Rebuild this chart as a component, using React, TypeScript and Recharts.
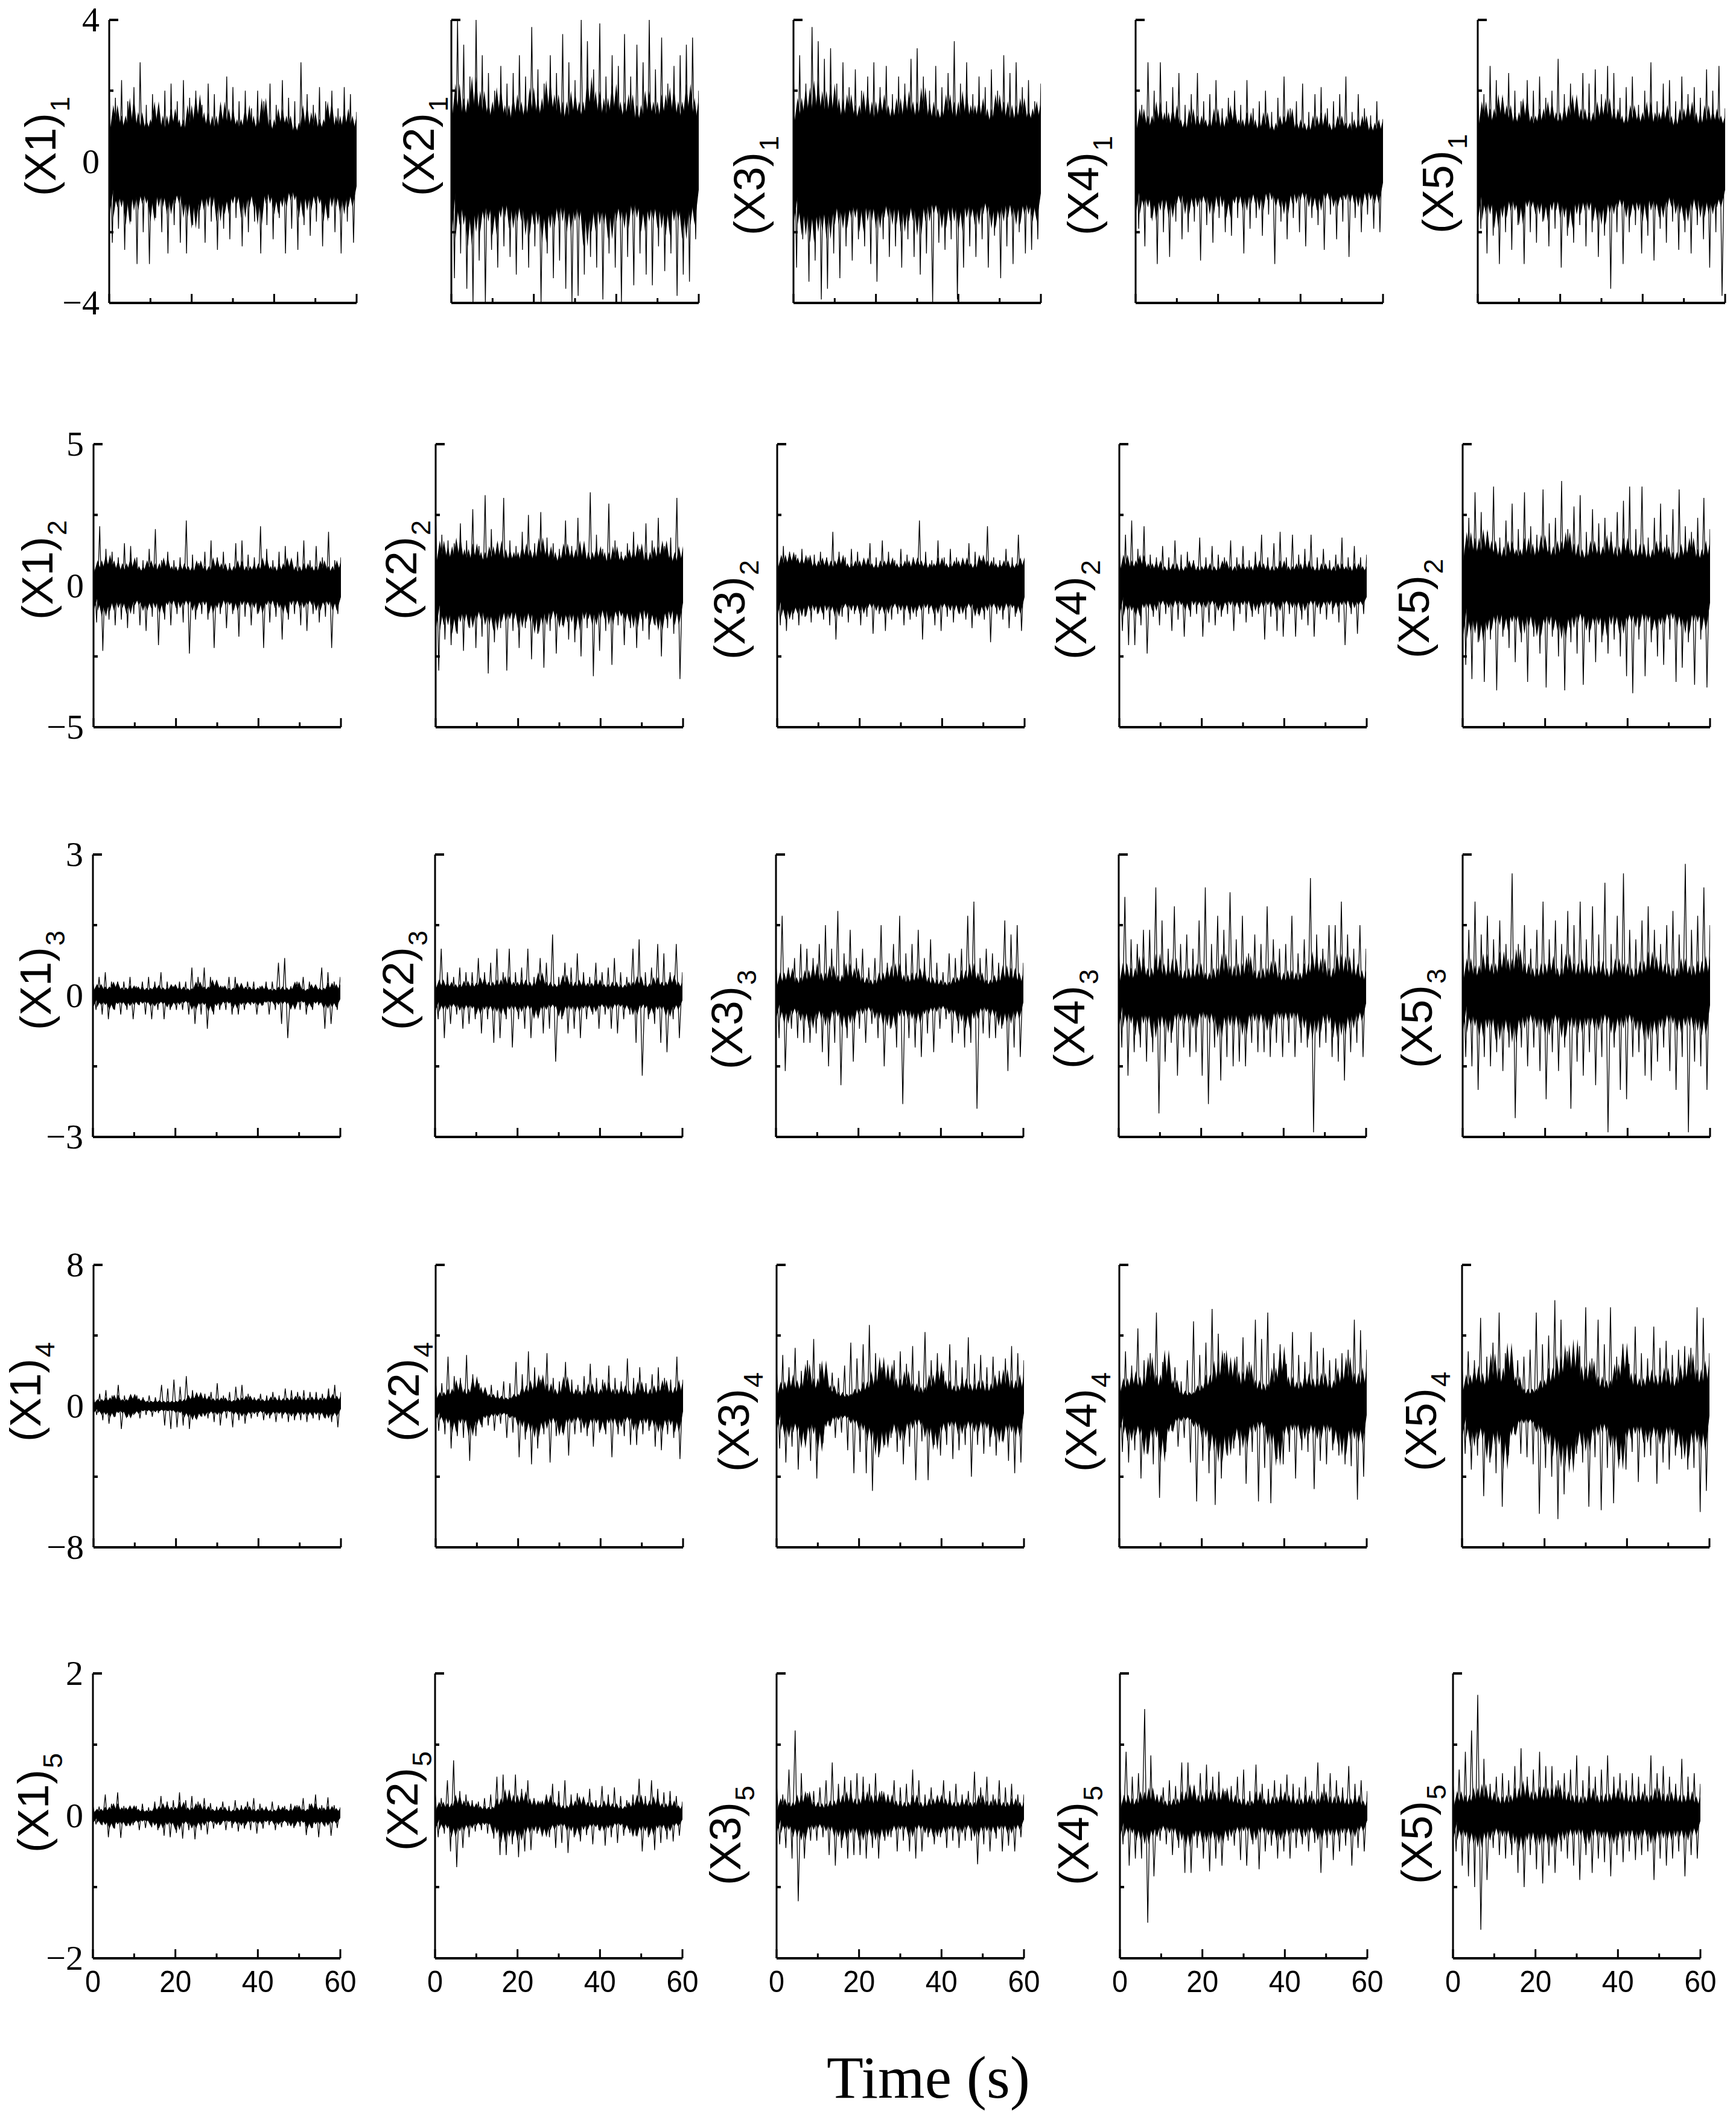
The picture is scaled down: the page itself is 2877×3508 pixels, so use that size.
import { ComposedChart, Line, Area, XAxis, YAxis } from 'recharts'

const rowLimits = [4, 5, 3, 8, 2]
const timeTicks = [0, 10, 20, 30, 40, 50, 60]
const timeLabels = [0, 20, 40, 60]
const columnNames = ['X1', 'X2', 'X3', 'X4', 'X5']

// spike tops, spike bottoms (every 1.5 s) and height of the dense part of the trace (every 1 s)
const hi11 = [2.2,1.8,2.3,1.7,2.1,2.8,1.6,1.9,1.5,2.0,2.2,1.7,2.3,1.8,2.0,1.6,2.2,1.9,1.6,2.4,2.1,1.7,2.0,1.5,2.0,1.7,2.2,1.6,2.3,1.8,1.7,2.8,1.9,1.6,2.1,1.7,2.0,1.5,2.1,1.9,1.4]
const lo11 = [-2.3,-1.9,-2.5,-1.7,-2.9,-2.0,-2.9,-1.6,-2.0,-2.6,-1.8,-2.3,-2.6,-1.8,-1.9,-2.3,-1.7,-2.5,-1.9,-2.2,-1.6,-2.4,-2.0,-1.7,-2.6,-1.8,-2.2,-1.6,-2.6,-1.9,-2.5,-1.8,-2.1,-1.7,-2.4,-1.6,-2.0,-2.6,-1.7,-2.3,-1.5]
const band11 = [0.7,1.6,0.8,1.3,0.7,1.8,0.6,1.4,0.7,1.2,0.8,1.7,0.6,1.3,0.7,1.5,0.8,1.2,0.6,1.6,0.7,1.9,0.8,1.4,0.7,1.3,0.6,1.7,0.7,1.5,0.8,1.2,0.7,1.6,0.6,1.3,0.7,1.8,0.6,1.2,0.7,1.5,0.8,1.3,0.6,1.1,0.7,1.6,0.6,1.4,0.7,1.2,0.8,1.7,0.6,1.3,0.7,1.5,0.7,1.3,0.7]
const hi21 = [3.2,4.0,3.3,2.4,4.0,3.0,2.5,2.0,2.7,2.2,2.5,3.0,2.4,3.8,2.6,2.2,3.0,2.5,3.6,2.8,2.3,4.0,3.4,2.6,3.9,2.4,3.0,2.7,3.6,2.4,3.3,2.8,4.0,2.6,3.5,2.2,2.7,3.0,3.3,3.5,2.0]
const lo21 = [-3.3,-2.6,-3.6,-4.0,-2.8,-4.0,-2.5,-3.0,-2.4,-2.7,-3.2,-2.5,-3.0,-2.4,-4.0,-2.6,-3.3,-2.8,-3.6,-4.0,-3.8,-3.2,-2.7,-3.0,-3.9,-2.6,-3.0,-4.0,-2.7,-3.5,-2.6,-3.2,-3.5,-2.4,-3.1,-2.6,-3.8,-3.2,-3.4,-2.2,-2.5]
const band21 = [1.0,2.2,0.9,1.8,1.0,2.4,0.9,2.0,1.0,1.7,0.9,2.1,1.0,1.6,0.8,1.9,1.0,1.7,0.9,2.1,1.0,1.8,0.9,2.3,1.0,1.9,0.9,1.7,0.8,2.0,1.0,1.7,0.9,2.4,1.0,2.0,0.9,1.8,1.0,2.2,0.9,1.7,1.0,1.9,0.8,1.6,0.9,2.0,1.0,1.7,0.9,1.9,1.0,2.1,0.9,1.7,1.0,2.2,0.9,1.8,0.8]
const hi31 = [2.7,3.0,2.2,3.8,3.4,2.9,3.2,2.2,2.8,2.1,2.6,2.0,2.4,2.8,2.1,2.7,1.9,2.4,2.2,2.9,3.2,2.4,2.0,2.7,2.1,2.5,3.4,2.2,2.8,1.9,2.4,2.1,2.6,2.0,3.0,2.5,2.8,2.1,2.3,1.7,2.2]
const lo31 = [-3.0,-2.2,-3.4,-2.8,-3.9,-3.6,-2.6,-3.3,-2.4,-2.8,-2.2,-2.4,-2.9,-3.4,-2.2,-2.7,-2.4,-3.0,-2.2,-2.7,-3.2,-2.6,-4.0,-2.3,-2.5,-2.2,-3.9,-3.0,-2.4,-2.7,-2.2,-3.0,-2.1,-3.3,-2.4,-2.9,-2.0,-2.6,-2.5,-2.2,-1.8]
const band31 = [0.9,1.8,1.0,2.1,0.9,2.3,1.0,2.0,0.9,2.2,0.8,1.8,0.9,1.9,1.0,1.6,0.9,2.0,0.8,1.7,0.9,1.9,1.0,1.6,0.9,1.8,0.8,2.0,1.0,1.7,0.9,2.1,0.8,1.7,0.9,1.5,1.0,1.9,0.9,1.7,0.8,2.0,0.9,1.6,1.0,1.8,0.8,1.5,0.9,1.9,1.0,1.7,0.8,1.6,0.9,1.8,0.9,1.5,1.0,1.7,0.9]
const hi41 = [2.3,1.6,2.8,2.0,2.8,1.7,2.1,2.5,1.6,1.9,2.5,1.7,1.9,2.3,1.5,1.8,2.0,1.6,2.3,1.5,1.7,2.0,1.4,1.8,2.4,1.5,1.7,2.2,1.4,1.9,2.1,1.5,1.7,1.9,2.4,1.4,1.9,1.5,1.3,1.7,1.2]
const lo41 = [-1.9,-2.4,-1.6,-2.9,-2.0,-2.7,-1.7,-2.2,-2.0,-1.7,-2.8,-1.8,-2.3,-1.6,-2.0,-2.1,-1.6,-2.6,-1.9,-1.6,-2.1,-1.5,-2.9,-1.7,-2.2,-1.6,-2.0,-2.4,-1.6,-1.8,-2.5,-1.5,-2.2,-1.7,-2.7,-1.6,-2.0,-1.5,-1.9,-2.0,-1.5]
const band41 = [0.7,1.5,0.8,1.3,0.7,1.7,0.8,1.4,0.7,1.6,0.8,1.2,0.6,1.5,0.7,1.3,0.8,1.2,0.7,1.5,0.6,1.3,0.7,1.6,0.8,1.2,0.7,1.4,0.6,1.2,0.7,1.4,0.6,1.1,0.7,1.3,0.8,1.5,0.6,1.2,0.7,1.1,0.6,1.3,0.7,1.4,0.6,1.1,0.7,1.3,0.8,1.1,0.6,1.2,0.7,1.3,0.6,1.1,0.7,1.2,0.6]
const hi51 = [2.5,1.9,2.7,2.3,1.8,2.5,2.0,1.7,2.3,2.0,2.4,1.8,2.0,2.9,1.9,2.2,1.7,2.5,2.2,2.6,1.9,2.7,2.5,1.8,2.1,2.4,1.6,2.0,2.8,1.7,2.2,2.3,1.7,2.4,1.9,2.1,1.8,2.6,2.0,2.7,1.5]
const lo51 = [-1.9,-2.6,-2.1,-2.9,-2.0,-2.5,-1.8,-2.9,-2.0,-2.3,-1.7,-2.4,-1.9,-3.0,-2.1,-2.3,-1.8,-2.4,-2.0,-2.7,-2.1,-3.6,-2.0,-2.9,-2.0,-1.8,-2.6,-2.1,-2.8,-1.9,-2.3,-1.7,-2.5,-2.0,-2.6,-1.8,-2.2,-3.0,-2.0,-3.8,-1.7]
const band51 = [0.8,1.7,0.9,1.5,0.8,1.9,0.9,1.6,0.8,1.4,0.9,1.8,0.8,1.3,0.9,1.5,0.8,1.7,0.9,1.4,0.8,1.6,0.9,1.9,0.8,1.5,0.9,1.4,0.8,1.7,0.9,1.8,0.8,1.5,0.9,1.3,0.8,1.6,0.9,1.4,0.8,1.7,0.7,1.4,0.9,1.6,0.8,1.3,0.7,1.5,0.9,1.7,0.8,1.4,0.7,1.6,0.8,1.5,0.9,1.3,0.8]

const hi12 = [0.9,2.1,1.3,1.2,1.0,1.5,1.4,1.0,0.9,1.3,2.0,0.9,1.2,0.9,1.0,2.3,1.1,0.8,1.2,1.6,1.0,1.2,0.8,1.5,1.6,1.1,1.0,2.1,1.3,0.9,1.2,1.4,0.8,1.2,1.6,0.9,1.4,1.0,1.9,0.9,1.0]
const lo12 = [-1.3,-2.3,-1.2,-1.4,-1.2,-1.5,-1.0,-1.4,-1.6,-1.1,-2.1,-1.2,-1.4,-1.0,-1.3,-2.4,-1.2,-1.0,-1.2,-2.2,-1.0,-1.5,-1.0,-1.8,-1.1,-1.4,-1.0,-2.2,-1.3,-1.1,-1.9,-1.2,-1.0,-1.4,-1.6,-1.0,-1.3,-1.1,-2.2,-1.0,-1.0]
const band12 = [0.4,0.9,0.4,1.1,0.4,0.9,0.3,0.8,0.4,1.0,0.3,0.7,0.4,0.9,0.4,0.8,0.3,1.0,0.4,0.7,0.3,0.8,0.4,0.7,0.3,0.9,0.4,0.7,0.3,1.0,0.4,0.8,0.3,0.7,0.4,0.9,0.3,0.7,0.4,0.8,0.3,1.0,0.4,0.7,0.3,0.8,0.4,1.0,0.3,0.7,0.3,0.8,0.4,0.7,0.3,0.9,0.4,0.7,0.3,0.9,0.4]
const hi22 = [2.7,1.8,1.6,1.5,2.2,1.6,2.7,1.4,3.2,2.0,1.5,3.1,1.6,1.4,1.9,2.5,1.5,2.6,1.7,1.5,1.3,2.3,1.4,2.4,1.3,3.3,1.8,1.3,2.9,1.6,1.2,1.5,1.9,1.3,2.2,1.6,2.4,1.4,1.7,3.1,1.3]
const lo22 = [-3.0,-1.9,-2.1,-1.7,-2.3,-1.5,-2.2,-1.8,-3.1,-2.0,-1.5,-3.0,-1.6,-2.2,-1.5,-2.6,-1.7,-2.9,-1.6,-2.4,-1.4,-1.9,-2.0,-2.5,-1.5,-3.2,-2.3,-1.6,-2.8,-1.4,-2.1,-1.5,-2.2,-1.6,-1.9,-1.4,-2.5,-1.5,-1.7,-3.3,-1.4]
const band22 = [0.6,1.6,0.7,1.4,0.6,1.7,0.7,1.3,0.6,1.5,0.7,1.2,0.6,1.4,0.7,1.6,0.5,1.3,0.7,1.2,0.6,1.5,0.7,1.3,0.6,1.7,0.7,1.4,0.5,1.2,0.6,1.5,0.7,1.3,0.6,1.6,0.5,1.2,0.7,1.4,0.6,1.2,0.5,1.4,0.6,1.1,0.7,1.3,0.6,1.5,0.5,1.2,0.6,1.4,0.7,1.6,0.6,1.2,0.5,1.4,0.6]
const hi32 = [1.3,1.4,1.2,1.1,1.3,1.0,1.1,1.2,1.0,1.9,1.2,1.0,1.3,1.2,0.9,1.5,1.0,1.6,1.2,0.9,1.3,1.1,1.0,2.3,1.2,0.9,1.6,1.0,1.3,1.0,0.9,1.5,1.2,0.9,2.1,1.0,0.9,1.3,1.0,1.8,0.9]
const lo32 = [-1.4,-1.6,-1.2,-1.4,-1.1,-1.3,-1.0,-1.2,-1.4,-1.9,-1.1,-1.3,-1.0,-1.4,-1.1,-1.7,-1.0,-1.6,-1.2,-1.0,-1.4,-1.2,-1.1,-1.9,-1.0,-1.4,-1.6,-1.1,-1.3,-1.0,-1.2,-1.5,-1.0,-1.2,-2.0,-1.0,-1.2,-1.5,-1.1,-1.6,-1.0]
const band32 = [0.5,1.1,0.5,1.2,0.6,1.0,0.5,1.1,0.4,0.9,0.5,1.0,0.4,0.9,0.5,1.1,0.4,0.8,0.5,0.9,0.4,1.0,0.5,0.8,0.4,0.9,0.5,1.0,0.4,0.8,0.5,0.9,0.4,1.0,0.5,0.9,0.4,0.8,0.5,1.0,0.4,0.8,0.5,0.9,0.4,1.0,0.5,0.8,0.4,1.1,0.5,0.9,0.4,0.8,0.5,0.9,0.4,0.8,0.5,1.0,0.4]
const hi42 = [1.5,1.8,2.3,1.3,2.1,1.1,1.0,1.4,1.0,1.6,1.1,1.2,0.9,1.7,1.0,1.4,1.1,1.0,1.6,1.0,1.4,0.9,1.2,1.8,1.0,1.5,1.9,1.0,1.8,1.1,1.3,1.8,1.0,1.3,0.9,1.1,1.7,1.0,1.4,1.0,1.1]
const lo42 = [-1.6,-2.1,-2.1,-1.4,-2.4,-1.1,-1.4,-1.0,-1.6,-1.2,-1.8,-1.1,-1.0,-1.8,-1.3,-1.4,-1.1,-1.0,-1.6,-1.0,-1.3,-1.1,-1.0,-1.9,-1.1,-1.6,-1.8,-1.0,-1.8,-1.2,-1.4,-1.8,-1.0,-1.2,-1.0,-1.3,-2.1,-1.0,-1.7,-1.0,-1.1]
const band42 = [0.4,1.1,0.4,0.9,0.5,1.1,0.4,0.8,0.4,0.9,0.3,0.7,0.4,0.8,0.3,0.7,0.4,0.9,0.3,0.7,0.4,0.8,0.3,0.7,0.4,0.9,0.4,0.7,0.3,0.8,0.4,0.7,0.3,0.9,0.4,0.8,0.3,0.7,0.4,0.9,0.3,0.7,0.4,0.8,0.3,0.9,0.4,0.7,0.3,0.8,0.4,0.7,0.3,0.8,0.4,0.7,0.3,0.8,0.4,0.7,0.4]
const hi52 = [3.2,2.4,3.3,2.6,1.9,3.5,1.7,2.3,2.9,2.0,3.3,2.1,1.8,3.4,2.2,2.4,3.7,2.0,2.8,3.2,1.9,2.7,2.2,2.4,1.9,2.6,3.0,3.5,2.0,3.5,1.7,2.4,2.9,1.8,2.7,3.4,2.1,1.9,2.4,3.1,2.0]
const lo52 = [-2.8,-3.3,-2.0,-3.4,-1.9,-3.7,-1.8,-2.2,-2.7,-2.0,-3.4,-1.8,-2.4,-3.6,-1.8,-2.5,-3.7,-2.0,-2.4,-3.5,-2.0,-2.7,-2.0,-2.4,-1.9,-2.5,-3.2,-3.8,-1.9,-3.2,-2.0,-2.5,-2.8,-1.9,-3.4,-2.9,-2.0,-3.5,-1.9,-3.6,-1.9]
const band52 = [0.7,1.9,0.8,1.7,0.7,2.0,0.8,1.6,0.7,1.4,0.6,1.6,0.8,1.3,0.7,1.7,0.6,1.5,0.7,1.8,0.8,1.4,0.7,1.6,0.8,1.9,0.7,1.5,0.6,1.3,0.7,1.6,0.8,1.4,0.7,1.8,0.6,1.4,0.7,1.7,0.8,1.3,0.7,1.5,0.6,1.3,0.7,1.6,0.8,1.4,0.7,1.2,0.6,1.5,0.7,1.7,0.6,1.3,0.7,1.6,0.6]

const hi13 = [0.3,0.4,0.5,0.3,0.3,0.3,0.4,0.2,0.3,0.4,0.3,0.5,0.3,0.2,0.3,0.3,0.6,0.4,0.6,0.4,0.3,0.2,0.4,0.4,0.2,0.3,0.3,0.2,0.3,0.3,0.7,0.8,0.2,0.3,0.4,0.3,0.2,0.6,0.5,0.3,0.4]
const lo13 = [-0.3,-0.4,-0.5,-0.3,-0.4,-0.3,-0.5,-0.2,-0.4,-0.5,-0.3,-0.5,-0.3,-0.3,-0.3,-0.4,-0.6,-0.4,-0.7,-0.4,-0.3,-0.3,-0.4,-0.4,-0.3,-0.2,-0.4,-0.2,-0.4,-0.3,-0.6,-0.9,-0.2,-0.3,-0.4,-0.3,-0.2,-0.7,-0.6,-0.3,-0.4]
const band13 = [0.08,0.25,0.07,0.2,0.08,0.3,0.07,0.18,0.08,0.22,0.07,0.2,0.06,0.17,0.08,0.23,0.07,0.18,0.08,0.25,0.07,0.2,0.06,0.16,0.07,0.3,0.08,0.2,0.07,0.35,0.08,0.22,0.06,0.17,0.07,0.28,0.06,0.2,0.08,0.18,0.06,0.22,0.07,0.15,0.06,0.2,0.05,0.18,0.07,0.3,0.05,0.15,0.07,0.25,0.06,0.17,0.07,0.28,0.06,0.25,0.07]
const hi23 = [0.4,1.0,0.5,0.4,0.6,0.5,0.5,0.8,0.5,0.7,1.0,0.5,1.0,0.5,0.6,1.0,0.4,0.8,0.7,1.3,0.4,0.7,0.6,0.9,0.5,0.4,0.7,0.5,0.6,0.8,0.5,0.4,1.0,1.2,0.5,0.6,1.1,0.9,0.5,1.1,0.5]
const lo23 = [-0.5,-0.9,-0.6,-0.4,-0.7,-0.6,-0.5,-0.8,-0.5,-1.0,-0.9,-0.5,-1.1,-0.5,-0.7,-0.9,-0.4,-0.8,-0.7,-1.4,-0.5,-0.8,-0.7,-0.9,-0.5,-0.4,-0.7,-0.4,-0.7,-0.8,-0.5,-0.4,-1.0,-1.7,-0.5,-0.6,-1.0,-1.2,-0.5,-0.9,-0.4]
const band23 = [0.1,0.35,0.1,0.3,0.1,0.25,0.09,0.32,0.1,0.28,0.12,0.4,0.1,0.3,0.11,0.35,0.1,0.42,0.1,0.3,0.12,0.35,0.1,0.3,0.1,0.5,0.12,0.3,0.1,0.26,0.12,0.45,0.1,0.3,0.09,0.35,0.1,0.28,0.1,0.35,0.12,0.25,0.1,0.3,0.09,0.24,0.1,0.3,0.1,0.42,0.09,0.27,0.1,0.4,0.12,0.3,0.1,0.45,0.1,0.3,0.1]
const hi33 = [0.7,1.7,0.6,0.8,1.1,1.0,0.8,1.1,1.5,1.0,1.8,0.9,1.4,0.8,1.0,0.6,0.8,1.5,0.7,1.1,1.7,0.9,1.1,1.4,0.8,1.2,0.7,0.5,0.9,0.8,1.0,1.7,2.0,0.8,1.0,0.9,0.7,1.6,1.3,1.5,0.7]
const lo33 = [-0.9,-1.6,-0.7,-0.9,-1.0,-1.0,-0.8,-1.2,-1.5,-1.0,-1.9,-0.9,-1.4,-0.7,-1.0,-0.6,-0.9,-1.5,-0.7,-1.1,-2.3,-0.9,-1.1,-1.3,-0.8,-1.2,-0.7,-0.5,-1.0,-0.8,-1.1,-1.0,-2.4,-0.8,-0.9,-0.9,-0.7,-1.6,-1.1,-1.3,-0.7]
const band33 = [0.12,0.5,0.14,0.6,0.12,0.4,0.15,0.55,0.14,0.7,0.12,0.5,0.14,0.65,0.12,0.45,0.15,0.7,0.14,0.6,0.12,0.4,0.14,0.35,0.12,0.5,0.14,0.65,0.12,0.7,0.14,0.45,0.12,0.5,0.15,0.6,0.12,0.4,0.14,0.35,0.12,0.3,0.14,0.4,0.15,0.55,0.12,0.7,0.14,0.5,0.12,0.35,0.14,0.45,0.12,0.65,0.14,0.6,0.12,0.5,0.14]
const hi43 = [1.0,2.1,1.2,1.1,1.4,1.4,2.3,1.6,1.0,1.9,1.1,1.3,1.0,1.6,2.3,1.1,1.7,1.4,2.2,1.2,1.7,0.9,1.3,1.1,1.9,1.2,1.0,1.1,1.7,0.9,1.2,2.5,1.3,1.0,1.5,1.5,2.0,1.3,1.0,1.5,1.0]
const lo43 = [-1.1,-1.7,-1.2,-1.1,-1.4,-1.2,-2.5,-1.4,-1.0,-1.7,-1.1,-1.3,-1.2,-1.7,-2.3,-1.1,-1.8,-1.3,-1.5,-1.4,-1.5,-1.0,-1.2,-1.2,-1.3,-1.0,-1.3,-1.0,-1.3,-1.0,-1.1,-2.9,-1.1,-1.0,-1.3,-1.4,-1.8,-1.2,-1.0,-1.3,-0.9]
const band43 = [0.15,0.7,0.17,0.6,0.15,0.85,0.18,0.6,0.16,0.9,0.15,0.7,0.17,0.8,0.15,0.55,0.16,0.6,0.14,0.7,0.15,0.5,0.17,0.6,0.15,0.9,0.16,0.65,0.15,0.7,0.14,0.85,0.16,0.55,0.15,0.6,0.17,0.75,0.15,0.5,0.14,0.55,0.16,0.5,0.15,0.7,0.18,0.95,0.17,0.8,0.15,0.6,0.18,0.9,0.17,0.85,0.16,0.7,0.15,0.55,0.16]
const hi53 = [1.2,1.4,2.0,1.3,1.7,1.2,1.6,1.1,2.6,1.1,1.5,1.0,1.4,2.0,1.2,1.6,1.1,1.8,1.5,2.0,1.2,1.9,1.3,2.4,1.1,1.7,2.6,1.4,1.2,1.6,1.9,1.4,1.1,1.5,1.8,1.3,2.8,1.4,1.7,2.3,1.5]
const lo53 = [-1.3,-1.5,-2.0,-1.3,-1.5,-1.2,-1.6,-1.1,-2.6,-1.1,-1.5,-1.1,-1.6,-2.2,-1.2,-1.6,-1.1,-2.4,-1.4,-1.7,-1.2,-1.9,-1.3,-2.9,-1.1,-2.0,-2.2,-1.3,-1.2,-1.7,-1.8,-1.4,-1.1,-1.6,-2.0,-1.3,-2.9,-1.4,-1.5,-2.0,-1.2]
const band53 = [0.2,0.8,0.22,0.65,0.2,0.9,0.22,0.7,0.2,0.95,0.25,0.8,0.22,1.0,0.2,0.7,0.22,0.6,0.18,0.7,0.2,0.85,0.22,0.6,0.2,0.9,0.22,0.7,0.18,0.8,0.2,0.65,0.22,0.75,0.18,0.6,0.2,0.8,0.22,0.7,0.18,0.6,0.2,0.75,0.22,0.95,0.2,0.85,0.22,0.7,0.18,0.6,0.2,0.8,0.22,0.65,0.18,0.75,0.2,0.85,0.2]

const hi14 = [0.5,0.7,0.9,0.6,1.2,0.6,0.5,0.6,0.5,0.6,0.5,1.2,1.0,1.5,1.1,1.7,0.9,0.5,0.7,0.8,1.3,0.6,0.8,1.1,1.2,0.7,0.5,0.7,0.6,0.8,0.6,1.0,0.9,0.8,0.9,0.8,0.8,0.7,1.0,1.2,0.8]
const lo14 = [-0.5,-0.8,-1.0,-0.6,-1.3,-0.6,-0.5,-0.7,-0.5,-0.6,-0.4,-1.1,-1.3,-1.2,-1.1,-1.3,-0.7,-0.6,-0.7,-0.9,-1.1,-0.7,-1.2,-0.8,-1.0,-0.7,-0.6,-0.8,-0.7,-0.9,-0.7,-0.9,-0.8,-0.8,-0.9,-0.7,-0.8,-0.7,-0.9,-1.2,-0.8]
const band14 = [0.12,0.4,0.14,0.5,0.15,0.65,0.14,0.4,0.12,0.7,0.15,0.45,0.12,0.3,0.12,0.35,0.1,0.3,0.12,0.3,0.14,0.4,0.12,0.65,0.16,0.8,0.15,0.6,0.14,0.45,0.16,0.5,0.14,0.35,0.15,0.5,0.14,0.6,0.15,0.45,0.16,0.4,0.14,0.55,0.15,0.45,0.16,0.5,0.15,0.6,0.14,0.5,0.15,0.55,0.14,0.5,0.16,0.7,0.15,0.6,0.15]
const hi24 = [1.4,1.3,2.8,1.7,1.6,2.9,1.8,1.3,1.0,1.2,0.9,1.4,1.3,2.5,1.8,3.1,2.2,1.5,3.0,1.6,1.4,2.5,1.5,1.2,1.7,2.4,1.6,1.5,2.3,1.6,1.4,2.7,1.6,2.2,1.3,1.8,2.2,1.6,1.5,2.8,1.5]
const lo24 = [-1.4,-1.6,-2.4,-1.7,-1.8,-3.1,-1.7,-1.2,-1.1,-1.4,-1.0,-1.8,-1.5,-2.9,-1.9,-3.3,-2.4,-1.6,-3.2,-1.7,-1.5,-2.8,-1.6,-1.5,-1.7,-2.3,-1.5,-1.6,-2.9,-1.6,-1.7,-2.2,-2.2,-1.6,-1.4,-2.3,-2.5,-1.6,-1.8,-3.0,-1.5]
const band24 = [0.3,0.8,0.35,1.0,0.3,1.5,0.35,1.0,0.3,1.7,0.35,1.1,0.3,0.7,0.25,0.6,0.2,0.5,0.3,0.7,0.35,1.2,0.3,1.5,0.4,1.8,0.35,1.3,0.3,1.0,0.35,1.7,0.3,1.0,0.35,0.9,0.3,1.3,0.35,1.0,0.3,1.4,0.35,1.0,0.3,1.2,0.35,0.9,0.3,1.4,0.35,1.0,0.3,1.2,0.35,1.5,0.3,1.1,0.35,1.5,0.3]
const hi34 = [2.2,2.9,2.2,3.3,2.0,2.6,3.8,2.4,1.2,1.9,1.6,2.3,3.6,2.7,3.5,4.6,3.0,2.2,1.8,2.6,3.1,2.4,3.4,2.0,4.2,2.6,3.0,2.0,3.5,2.6,2.2,3.9,2.4,2.9,2.2,2.8,2.0,2.7,3.4,3.0,2.6]
const lo34 = [-2.4,-3.2,-2.3,-3.6,-1.9,-3.1,-4.1,-2.1,-1.1,-1.8,-1.5,-2.5,-3.8,-2.6,-3.8,-4.8,-2.9,-2.2,-1.8,-2.6,-3.3,-2.3,-4.2,-2.0,-4.2,-2.2,-2.8,-2.2,-3.0,-2.5,-2.2,-4.0,-2.2,-2.7,-2.3,-2.8,-2.0,-3.1,-3.8,-3.2,-2.4]
const band34 = [0.4,1.4,0.45,1.8,0.4,1.5,0.5,2.4,0.45,1.6,0.4,2.6,0.45,1.2,0.35,0.8,0.3,0.7,0.4,1.0,0.45,1.4,0.4,2.0,0.5,2.8,0.45,2.4,0.4,1.6,0.45,2.0,0.4,1.3,0.35,1.1,0.4,1.8,0.45,2.5,0.4,1.5,0.45,1.2,0.4,1.6,0.45,1.3,0.4,1.5,0.35,1.3,0.4,1.8,0.45,2.1,0.4,1.5,0.45,1.8,0.4]
const hi44 = [2.4,3.1,2.3,4.4,2.6,3.0,5.3,2.5,1.2,2.2,1.4,2.6,4.8,2.9,3.6,5.5,4.1,3.0,2.3,2.8,3.9,2.5,4.9,3.8,5.3,3.0,3.5,2.4,4.2,2.9,2.5,4.2,3.1,3.3,2.6,2.7,3.0,3.2,4.9,4.3,3.2]
const lo44 = [-2.6,-3.2,-2.5,-4.1,-2.7,-3.3,-5.2,-2.6,-1.4,-2.3,-1.8,-3.2,-5.4,-3.1,-3.8,-5.6,-4.1,-2.8,-2.4,-2.8,-4.4,-2.6,-5.4,-3.5,-5.5,-3.0,-3.3,-2.6,-4.1,-2.5,-2.6,-4.7,-3.1,-3.3,-2.5,-2.8,-3.3,-3.4,-5.3,-4.0,-3.3]
const band44 = [0.5,1.6,0.55,2.0,0.5,1.7,0.55,2.8,0.5,1.8,0.5,3.2,0.55,1.5,0.4,0.9,0.35,0.8,0.5,1.2,0.55,1.8,0.5,2.6,0.6,3.2,0.55,2.8,0.5,2.0,0.55,2.4,0.5,1.5,0.4,1.3,0.5,2.2,0.55,3.4,0.5,1.7,0.55,1.4,0.5,1.9,0.55,1.6,0.5,1.9,0.45,1.5,0.5,2.2,0.55,2.8,0.5,1.9,0.55,2.2,0.5]
const hi54 = [2.5,3.1,2.6,5.0,2.8,3.6,5.3,3.0,1.5,2.6,2.8,3.2,5.3,3.5,4.0,6.0,4.9,3.1,2.5,3.4,5.6,2.7,4.9,3.5,5.6,2.8,3.5,2.4,4.5,3.0,2.7,4.5,3.3,3.7,2.9,3.2,3.4,3.3,5.6,5.0,3.0]
const lo54 = [-2.7,-3.6,-2.8,-5.1,-3.2,-3.8,-5.7,-2.8,-1.6,-2.7,-2.9,-3.3,-6.1,-3.5,-4.0,-6.4,-5.0,-3.0,-2.7,-3.2,-5.7,-2.9,-5.9,-3.5,-5.5,-3.0,-3.6,-2.6,-4.3,-2.9,-2.8,-4.4,-3.2,-3.6,-2.8,-3.0,-3.6,-3.5,-6.0,-4.8,-3.2]
const band54 = [0.55,1.8,0.6,2.3,0.55,1.9,0.6,3.0,0.55,2.2,0.55,3.6,0.6,1.7,0.45,1.0,0.4,1.0,0.55,1.5,0.6,2.2,0.55,2.9,0.65,3.5,0.6,3.8,0.55,2.3,0.6,2.6,0.55,1.7,0.45,1.5,0.55,2.4,0.6,3.6,0.55,1.9,0.6,1.6,0.55,2.1,0.6,1.8,0.55,2.2,0.5,1.7,0.55,2.4,0.6,3.0,0.55,2.1,0.6,2.6,0.55]

const hi15 = [0.15,0.13,0.3,0.17,0.33,0.14,0.12,0.14,0.17,0.12,0.2,0.28,0.2,0.22,0.33,0.22,0.28,0.2,0.25,0.18,0.13,0.2,0.14,0.22,0.15,0.2,0.25,0.17,0.13,0.2,0.15,0.14,0.17,0.15,0.25,0.17,0.3,0.15,0.26,0.15,0.12]
const lo15 = [-0.12,-0.13,-0.3,-0.18,-0.31,-0.14,-0.13,-0.2,-0.17,-0.16,-0.2,-0.28,-0.3,-0.24,-0.32,-0.2,-0.33,-0.2,-0.26,-0.18,-0.13,-0.2,-0.17,-0.22,-0.18,-0.2,-0.25,-0.18,-0.13,-0.2,-0.16,-0.14,-0.17,-0.15,-0.27,-0.17,-0.3,-0.15,-0.28,-0.17,-0.12]
const band15 = [0.03,0.1,0.03,0.13,0.03,0.18,0.03,0.12,0.04,0.15,0.03,0.1,0.03,0.08,0.03,0.14,0.04,0.18,0.03,0.13,0.04,0.2,0.03,0.12,0.04,0.18,0.03,0.14,0.03,0.1,0.04,0.13,0.03,0.09,0.03,0.12,0.03,0.14,0.03,0.1,0.03,0.12,0.03,0.09,0.03,0.13,0.04,0.1,0.03,0.15,0.03,0.1,0.04,0.18,0.03,0.12,0.03,0.14,0.03,0.11,0.03]
const hi25 = [0.35,0.25,0.5,0.78,0.35,0.3,0.22,0.2,0.25,0.3,0.55,0.58,0.35,0.58,0.38,0.5,0.25,0.2,0.3,0.45,0.35,0.5,0.3,0.32,0.25,0.38,0.22,0.42,0.3,0.4,0.28,0.22,0.3,0.52,0.28,0.5,0.38,0.33,0.35,0.28,0.2]
const lo25 = [-0.3,-0.25,-0.5,-0.72,-0.45,-0.3,-0.22,-0.2,-0.25,-0.32,-0.55,-0.55,-0.4,-0.58,-0.5,-0.48,-0.25,-0.2,-0.3,-0.45,-0.38,-0.52,-0.3,-0.36,-0.27,-0.4,-0.2,-0.42,-0.3,-0.38,-0.28,-0.24,-0.28,-0.5,-0.3,-0.48,-0.38,-0.33,-0.36,-0.28,-0.2]
const band25 = [0.05,0.2,0.05,0.18,0.06,0.3,0.05,0.22,0.06,0.18,0.05,0.14,0.05,0.13,0.05,0.25,0.06,0.38,0.06,0.3,0.06,0.35,0.06,0.25,0.06,0.22,0.05,0.3,0.06,0.2,0.05,0.15,0.05,0.22,0.05,0.28,0.05,0.2,0.06,0.16,0.05,0.22,0.05,0.18,0.05,0.14,0.05,0.2,0.06,0.3,0.05,0.22,0.05,0.28,0.05,0.18,0.05,0.22,0.05,0.15,0.05]
const hi35 = [0.45,0.3,0.65,1.2,0.6,0.32,0.35,0.4,0.5,0.75,0.45,0.55,0.5,0.6,0.55,0.45,0.6,0.35,0.3,0.5,0.4,0.45,0.65,0.5,0.3,0.4,0.28,0.5,0.35,0.45,0.3,0.35,0.62,0.4,0.55,0.3,0.5,0.4,0.45,0.3,0.3]
const lo35 = [-0.4,-0.45,-0.6,-1.2,-0.6,-0.35,-0.35,-0.3,-0.55,-0.7,-0.45,-0.6,-0.55,-0.55,-0.6,-0.45,-0.6,-0.35,-0.3,-0.5,-0.35,-0.5,-0.6,-0.5,-0.3,-0.4,-0.3,-0.45,-0.35,-0.45,-0.35,-0.35,-0.68,-0.4,-0.5,-0.32,-0.5,-0.42,-0.5,-0.3,-0.3]
const band35 = [0.05,0.25,0.06,0.2,0.05,0.3,0.06,0.35,0.05,0.2,0.05,0.18,0.05,0.22,0.05,0.3,0.06,0.35,0.06,0.25,0.06,0.35,0.06,0.3,0.06,0.35,0.05,0.3,0.06,0.22,0.05,0.2,0.05,0.3,0.05,0.2,0.05,0.25,0.06,0.3,0.06,0.25,0.05,0.2,0.05,0.25,0.05,0.2,0.06,0.3,0.05,0.22,0.05,0.25,0.05,0.2,0.05,0.25,0.05,0.2,0.05]
const hi45 = [0.45,0.9,0.55,0.6,1.5,0.85,0.3,0.4,0.5,0.42,0.75,0.75,0.42,0.6,0.72,0.55,0.62,0.35,0.42,0.55,0.65,0.35,0.72,0.45,0.38,0.5,0.45,0.58,0.45,0.4,0.55,0.35,0.75,0.45,0.6,0.5,0.4,0.7,0.45,0.5,0.35]
const lo45 = [-0.4,-0.7,-0.6,-0.6,-1.5,-0.85,-0.35,-0.4,-0.55,-0.45,-0.8,-0.8,-0.45,-0.6,-0.78,-0.6,-0.7,-0.35,-0.42,-0.62,-0.7,-0.4,-0.75,-0.5,-0.42,-0.6,-0.5,-0.6,-0.45,-0.4,-0.5,-0.38,-0.8,-0.45,-0.62,-0.5,-0.42,-0.7,-0.45,-0.5,-0.35]
const band45 = [0.06,0.3,0.07,0.25,0.06,0.35,0.07,0.4,0.07,0.3,0.06,0.22,0.06,0.25,0.06,0.35,0.07,0.45,0.07,0.3,0.07,0.38,0.07,0.35,0.07,0.4,0.06,0.3,0.07,0.25,0.06,0.22,0.06,0.35,0.06,0.25,0.06,0.28,0.07,0.35,0.07,0.3,0.06,0.25,0.06,0.3,0.06,0.25,0.07,0.35,0.06,0.28,0.06,0.3,0.06,0.25,0.06,0.3,0.06,0.22,0.06]
const hi55 = [0.5,0.65,0.9,1.2,1.7,0.8,0.45,0.55,0.6,0.5,0.7,0.95,0.55,0.65,0.9,0.7,0.7,0.5,0.6,0.65,0.85,0.5,0.7,0.55,0.65,0.85,0.55,0.6,0.5,0.6,0.55,0.45,0.85,0.6,0.7,0.55,0.45,0.8,0.55,0.6,0.45]
const lo55 = [-0.5,-0.7,-0.85,-1.0,-1.6,-0.9,-0.45,-0.55,-0.6,-0.55,-0.8,-1.0,-0.55,-0.75,-0.95,-0.7,-0.8,-0.5,-0.6,-0.7,-0.9,-0.55,-0.8,-0.6,-0.65,-0.85,-0.55,-0.65,-0.5,-0.62,-0.55,-0.5,-0.9,-0.6,-0.7,-0.6,-0.5,-0.85,-0.55,-0.6,-0.45]
const band55 = [0.07,0.35,0.08,0.3,0.07,0.4,0.08,0.45,0.08,0.35,0.07,0.28,0.07,0.3,0.07,0.4,0.08,0.5,0.08,0.35,0.08,0.42,0.08,0.4,0.08,0.45,0.07,0.35,0.08,0.3,0.07,0.28,0.07,0.4,0.07,0.3,0.07,0.32,0.08,0.4,0.08,0.35,0.07,0.3,0.07,0.35,0.07,0.3,0.08,0.4,0.07,0.32,0.07,0.35,0.07,0.3,0.07,0.35,0.07,0.28,0.07]

const waveTops = [[hi11, hi21, hi31, hi41, hi51], [hi12, hi22, hi32, hi42, hi52], [hi13, hi23, hi33, hi43, hi53], [hi14, hi24, hi34, hi44, hi54], [hi15, hi25, hi35, hi45, hi55]]
const waveBottoms = [[lo11, lo21, lo31, lo41, lo51], [lo12, lo22, lo32, lo42, lo52], [lo13, lo23, lo33, lo43, lo53], [lo14, lo24, lo34, lo44, lo54], [lo15, lo25, lo35, lo45, lo55]]
const waveBands = [[band11, band21, band31, band41, band51], [band12, band22, band32, band42, band52], [band13, band23, band33, band43, band53], [band14, band24, band34, band44, band54], [band15, band25, band35, band45, band55]]

// plot boxes in page pixels
const plotLefts = [
  [181, 748, 1315, 1882, 2449],
  [155, 722, 1288, 1855, 2424],
  [154, 721, 1286, 1854, 2424],
  [155, 722, 1287, 1855, 2423],
  [154, 721, 1287, 1856, 2408],
]
const plotWidth = 410
const plotTops = [33, 736, 1416, 2096, 2773]
const plotBottoms = [502, 1205, 1884, 2564, 3245]
const titleSpots = [
  [[92, 325], [719, 325], [1267, 390], [1820, 390], [2408, 387]],
  [[87, 1027], [690, 1027], [1234, 1093], [1800, 1093], [2368, 1091]],
  [[84, 1707], [685, 1707], [1230, 1772], [1797, 1771], [2373, 1770]],
  [[67, 2389], [694, 2389], [1241, 2439], [1817, 2439], [2380, 2438]],
  [[80, 3070], [692, 3067], [1227, 3124], [1804, 3124], [2373, 3122]],
]

const AXIS_W = 100
const PAD_R = 40
const PAD_T = 30
const AXIS_H = 70

function TimeTick({ x, y, payload, showLabel }: any) {
  const major = payload.value % 20 === 0
  return (
    <g>
      <line x1={x} x2={x} y1={y} y2={y - (major ? 15 : 8)} stroke="#000" strokeWidth={3} />
      {showLabel && timeLabels.includes(payload.value) && (
        <text x={x} y={y + 56} textAnchor="middle" fontFamily="'Liberation Sans', Arial, sans-serif" fontSize={50} fill="#000" textLength={payload.value === 0 ? 26 : 53} lengthAdjust="spacingAndGlyphs">
          {payload.value}
        </text>
      )}
    </g>
  )
}

function ValueTick({ x, y, payload, limit, showLabel }: any) {
  const major = Math.abs(payload.value) === limit
  const label = payload.value < 0 ? `\u2212${-payload.value}` : `${payload.value}`
  return (
    <g>
      <line x1={x} x2={x + (major ? 15 : 7)} y1={y} y2={y} stroke="#000" strokeWidth={4} />
      {showLabel && payload.value % limit === 0 && (
        <text x={x - 16} y={y + 19} textAnchor="end" fontFamily="'Liberation Serif', 'Times New Roman', serif" fontSize={58} fill="#000">
          {label}
        </text>
      )}
    </g>
  )
}

function Panel({ row, col }: { row: number; col: number }) {
  const limit = rowLimits[row]
  const tops = waveTops[row][col]
  const bottoms = waveBottoms[row][col]
  const wave = tops.flatMap((top, i) => [
    { t: i * 1.5, v: top },
    { t: i * 1.5 + 0.75, v: bottoms[i] },
  ]).filter((d) => d.t <= 60)
  const levels = waveBands[row][col]
  // top and bottom edges of the dense part use neighbouring readings, drawn twice so the teeth interleave
  const bandA = levels.map((c, i) => ({ t: i, band: [-(levels[i + 1] ?? c), c] }))
  const bandB = levels.map((c, i) => ({ t: i + 1, band: [-(levels[i + 1] ?? c), c] })).filter((d) => d.t <= 60)
  const plotHeight = plotBottoms[row] - plotTops[row]
  const isLastRow = row === rowLimits.length - 1
  return (
    <div style={{ position: 'absolute', left: plotLefts[row][col] - AXIS_W, top: plotTops[row] - PAD_T - 20 }}>
      <ComposedChart
        width={plotWidth + AXIS_W + PAD_R}
        height={plotHeight + PAD_T + 20 + AXIS_H}
        margin={{ top: PAD_T + 20, right: PAD_R, bottom: 0, left: 0 }}
      >
        <XAxis
          type="number"
          dataKey="t"
          domain={[0, 60]}
          ticks={timeTicks}
          interval={0}
          height={AXIS_H}
          tickSize={0}
          tickMargin={0}
          tickLine={false}
          axisLine={{ stroke: '#000', strokeWidth: 4 }}
          tick={<TimeTick showLabel={isLastRow} />}
          allowDataOverflow
        />
        <YAxis
          type="number"
          domain={[-limit, limit]}
          ticks={[-limit, -limit / 2, 0, limit / 2, limit]}
          interval={0}
          width={AXIS_W}
          tickSize={0}
          tickMargin={0}
          tickLine={false}
          axisLine={{ stroke: '#000', strokeWidth: 3 }}
          tick={<ValueTick limit={limit} showLabel={col === 0} />}
          allowDataOverflow
        />
        <Area data={bandA} dataKey="band" type="linear" fill="#000" fillOpacity={1} stroke="none" dot={false} activeDot={false} isAnimationActive={false} />
        <Area data={bandB} dataKey="band" type="linear" fill="#000" fillOpacity={1} stroke="none" dot={false} activeDot={false} isAnimationActive={false} />
        <Line data={wave} dataKey="v" type="linear" stroke="#000" strokeWidth={1.3} dot={false} activeDot={false} isAnimationActive={false} />
      </ComposedChart>
    </div>
  )
}

function Titles() {
  return (
    <svg width={2877} height={3508} style={{ position: 'absolute', left: 0, top: 0, pointerEvents: 'none' }}>
      {titleSpots.map((spots, row) =>
        spots.map(([x, y], col) => (
          <text key={`${row}-${col}`} transform={`translate(${x},${y}) rotate(-90)`} fontFamily="'Liberation Sans', Arial, sans-serif" fontSize={73} fill="#000">
            ({columnNames[col]})
            <tspan fontSize={45} dx={2} dy={23}>{row + 1}</tspan>
          </text>
        )),
      )}
      <text x={1370} y={3476} fontFamily="'Liberation Serif', 'Times New Roman', serif" fontSize={100} fill="#000" textLength={337} lengthAdjust="spacingAndGlyphs">
        Time (s)
      </text>
    </svg>
  )
}

export default function App() {
  return (
    <div style={{ position: 'absolute', left: 0, top: 0, width: 2877, height: 3508, background: '#fff', overflow: 'hidden' }}>
      {rowLimits.map((_, row) =>
        columnNames.map((_, col) => <Panel key={`${row}-${col}`} row={row} col={col} />),
      )}
      <Titles />
    </div>
  )
}
